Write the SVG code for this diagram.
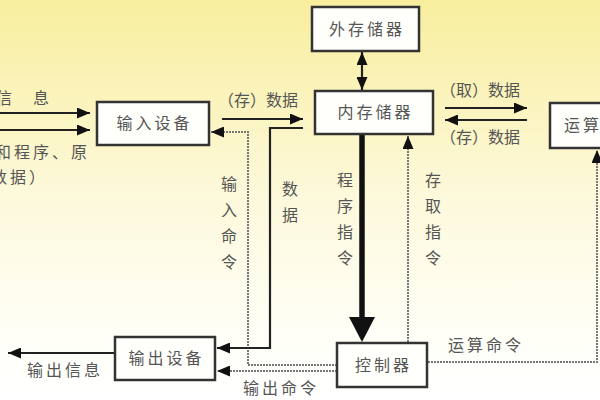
<svg xmlns="http://www.w3.org/2000/svg" width="600" height="400" viewBox="0 0 600 400">
<style>
.box{fill:#fffffb;stroke:#333;stroke-width:2.5}
.t{font-family:"Noto Sans CJK SC","Noto Sans",sans-serif;font-size:16px;fill:#555}
.s{letter-spacing:3px}
.c{text-anchor:middle}
.solid{fill:none;stroke:#222;stroke-width:2.2}
.dot{fill:none;stroke:#777;stroke-width:2;stroke-dasharray:2 1}
</style>
<defs>
<linearGradient id="bg" x1="0" y1="0" x2="0" y2="1">
<stop offset="0" stop-color="#f8ee9e"/>
<stop offset="0.5" stop-color="#fdf9dc"/>
<stop offset="0.85" stop-color="#fffff8"/>
<stop offset="1" stop-color="#ffffff"/>
</linearGradient>
<marker id="a" markerUnits="userSpaceOnUse" markerWidth="13" markerHeight="11" refX="13" refY="5.5" orient="auto-start-reverse" viewBox="0 0 13 11">
<path d="M0,0 L13,5.5 L0,11 z" fill="#111"/>
</marker>
</defs>
<rect x="0" y="0" width="600" height="400" fill="url(#bg)"/>

<g id="connectors">
<line class="solid" x1="0" y1="113" x2="90" y2="113" marker-end="url(#a)"/>
<line class="solid" x1="0" y1="130" x2="90" y2="130" marker-end="url(#a)"/>
<line class="solid" x1="222" y1="119" x2="303" y2="119" marker-end="url(#a)"/>
<line class="solid" x1="362" y1="52" x2="362" y2="90" marker-start="url(#a)" marker-end="url(#a)"/>
<line class="solid" x1="445" y1="108" x2="527" y2="108" marker-end="url(#a)"/>
<line class="solid" x1="527" y1="120" x2="445" y2="120" marker-end="url(#a)"/>
<polyline class="dot" points="337,365 248,365 248,132 211,132" marker-end="url(#a)"/>
<polyline class="solid" points="303,128 270,128 270,348 217,348" marker-end="url(#a)"/>
<line class="dot" x1="337" y1="371" x2="217" y2="371" marker-end="url(#a)"/>
<line class="solid" x1="114" y1="353" x2="8" y2="353" marker-end="url(#a)"/>
<line x1="362" y1="135" x2="362" y2="318" stroke="#111" stroke-width="5.5"/>
<polygon points="349,317 375,317 362,342" fill="#111"/>
<line class="dot" x1="408" y1="342" x2="408" y2="136" marker-end="url(#a)"/>
<polyline class="dot" points="428,362 597,362 597,150" marker-end="url(#a)"/>
</g>

<g id="n-ext">
<rect class="box" x="312" y="7" width="107" height="44"/>
<text class="t c s" x="367" y="35">外存储器</text>
</g>
<g id="n-mem">
<rect class="box" x="315" y="91" width="118" height="43"/>
<text class="t c s" x="375.5" y="118">内存储器</text>
</g>
<g id="n-alu">
<rect class="box" x="550" y="103" width="60" height="45"/>
<text class="t s" x="564" y="131">运算器</text>
</g>
<g id="n-in">
<rect class="box" x="97" y="102" width="112" height="43"/>
<text class="t c s" x="154.5" y="129">输入设备</text>
</g>
<g id="n-out">
<rect class="box" x="115" y="337" width="100" height="43"/>
<text class="t c s" x="166.5" y="364">输出设备</text>
</g>
<g id="n-ctl">
<rect class="box" x="337" y="343" width="90" height="44"/>
<text class="t c s" x="383.5" y="371">控制器</text>
</g>

<g id="labels">
<text class="t" x="-4" y="104">信</text>
<text class="t" x="33" y="104">息</text>
<text class="t s" x="-5" y="158">和程序、原</text>
<text class="t s" x="-28" y="183">始数据）</text>
<text class="t" x="218" y="106">（存）数据</text>
<text class="t" x="440" y="96">（取）数据</text>
<text class="t" x="440" y="143">（存）数据</text>
<text class="t c" x="229" y="190">输</text>
<text class="t c" x="229" y="216">入</text>
<text class="t c" x="229" y="242">命</text>
<text class="t c" x="229" y="268">令</text>
<text class="t c" x="290" y="195">数</text>
<text class="t c" x="290" y="221">据</text>
<text class="t c" x="345" y="186">程</text>
<text class="t c" x="345" y="212">序</text>
<text class="t c" x="345" y="238">指</text>
<text class="t c" x="345" y="264">令</text>
<text class="t c" x="433" y="186">存</text>
<text class="t c" x="433" y="212">取</text>
<text class="t c" x="433" y="238">指</text>
<text class="t c" x="433" y="264">令</text>
<text class="t s" x="448" y="351">运算命令</text>
<text class="t s" x="27" y="376">输出信息</text>
<text class="t s" x="243" y="394">输出命令</text>
</g>
</svg>
